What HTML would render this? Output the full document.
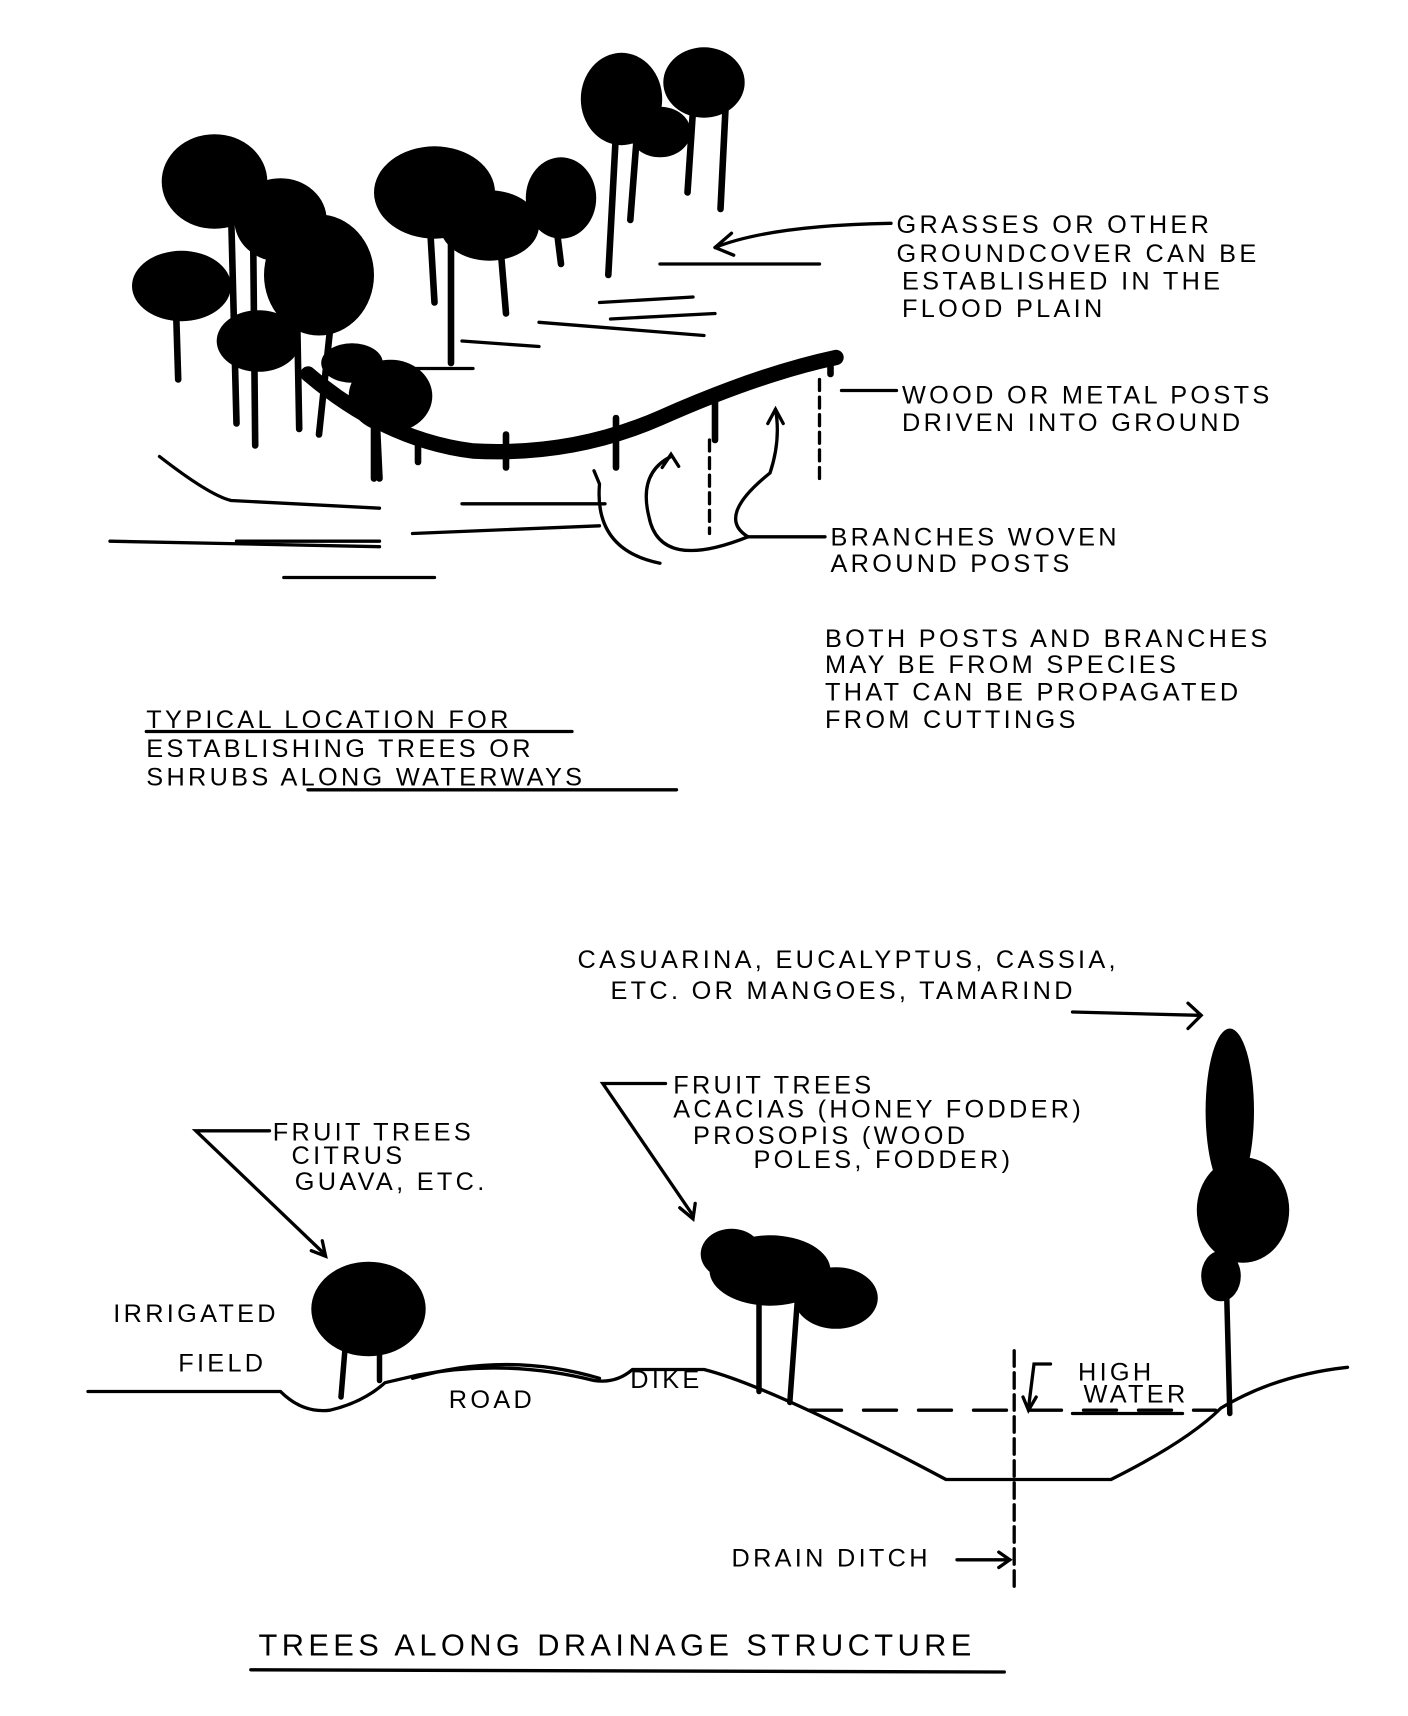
<!DOCTYPE html>
<html><head><meta charset="utf-8"><style>
html,body{margin:0;padding:0;background:#fff;}
svg{display:block;}
text{font-family:"Liberation Sans",sans-serif;font-size:23px;fill:#000;letter-spacing:3px;}
</style></head><body>
<svg width="1408" height="1716" viewBox="0 0 1280 1560" xmlns="http://www.w3.org/2000/svg">
<g fill="#000" stroke="none">
<ellipse cx="195" cy="165" rx="48" ry="43"/>
<ellipse cx="255" cy="200" rx="42" ry="38"/>
<ellipse cx="165" cy="260" rx="45" ry="32"/>
<ellipse cx="290" cy="250" rx="50" ry="55"/>
<ellipse cx="235" cy="310" rx="38" ry="28"/>
<ellipse cx="395" cy="175" rx="55" ry="42"/>
<ellipse cx="445" cy="205" rx="45" ry="32"/>
<ellipse cx="510" cy="180" rx="32" ry="37"/>
<ellipse cx="565" cy="90" rx="37" ry="42"/>
<ellipse cx="640" cy="75" rx="37" ry="32"/>
<ellipse cx="600" cy="120" rx="28" ry="23"/>
<ellipse cx="355" cy="360" rx="38" ry="33"/>
<ellipse cx="320" cy="330" rx="28" ry="18"/>
</g>
<g fill="none" stroke="#000" stroke-width="6" stroke-linecap="round">
<path d="M210 190 L215 385"/><path d="M230 200 L232 405"/><path d="M160 280 L162 345"/>
<path d="M270 280 L272 390"/><path d="M300 300 L290 395"/><path d="M340 330 L345 435"/>
<path d="M390 190 L395 275"/><path d="M410 200 L410 330"/><path d="M455 225 L460 285"/>
<path d="M505 200 L510 240"/><path d="M580 110 L573 200"/><path d="M560 120 L553 250"/>
<path d="M630 100 L625 175"/><path d="M660 90 L655 190"/>
<path d="M280 340 Q350 400 430 410 Q520 415 600 380 Q690 340 760 325" stroke-width="14"/>
<path d="M560 380 L560 425"/><path d="M650 355 L650 400"/><path d="M755 325 L755 340"/>
<path d="M460 395 L460 425"/><path d="M380 400 L380 420"/><path d="M340 380 L340 435"/>
<path d="M645 400 L645 485" stroke-width="3" stroke-dasharray="10 6"/>
<path d="M745 345 L745 435" stroke-width="3" stroke-dasharray="10 6"/>
</g>
<g fill="none" stroke="#000" stroke-width="3" stroke-linecap="round">
<path d="M145 415 Q190 450 210 455 L345 462"/><path d="M100 492 L345 497"/><path d="M215 492 L345 492"/>
<path d="M258 525 L395 525"/><path d="M375 485 L545 478"/><path d="M420 458 L550 458"/>
<path d="M600 240 L745 240"/><path d="M545 275 L630 270"/><path d="M555 290 L650 285"/>
<path d="M490 293 L640 305"/><path d="M360 335 L430 335"/><path d="M420 310 L490 315"/>
<path d="M810 203 Q700 205 650 225"/><path d="M650 225 L665 212 M650 225 L667 232"/>
<path d="M815 355 L765 355"/>
<path d="M750 488 L680 488 Q650 470 700 430 Q710 400 705 372"/><path d="M698 385 L705 372 L712 385"/>
<path d="M680 488 Q600 520 590 470 Q580 430 610 415"/><path d="M602 425 L610 413 L617 424"/>
<path d="M600 512 Q540 500 545 440 L540 428"/>
<path d="M133 665 L520 665"/><path d="M280 718 L615 718"/>
<path d="M80 1265 L255 1265 Q275 1285 300 1282 Q330 1275 350 1257 L380 1250 Q460 1235 540 1255 Q560 1258 575 1245 L640 1245 Q700 1260 860 1345 L1010 1345 Q1080 1310 1110 1280 Q1160 1250 1225 1243"/>
<path d="M375 1253 Q460 1228 545 1253"/>
<path d="M735 1282 L1105 1282" stroke-dasharray="30 20"/>
<path d="M975 1285 L1075 1285"/>
<path d="M922 1228 L922 1445" stroke-dasharray="14 6"/>
<path d="M955 1240 L940 1240 L935 1280"/><path d="M930 1270 L935 1282 L942 1270"/>
<path d="M870 1418 L918 1418"/><path d="M908 1411 L918 1418 L908 1425"/>
<path d="M975 920 L1090 923"/><path d="M1080 912 L1092 923 L1080 935"/>
<path d="M605 985 L548 985 L630 1105"/><path d="M618 1098 L630 1108 L632 1094"/>
<path d="M245 1028 L178 1028 L295 1140"/><path d="M283 1137 L296 1142 L293 1128"/>
<path d="M228 1518 L913 1520"/>
<path d="M1115 1170 L1118 1285" stroke-width="5"/>
<path d="M690 1180 L690 1265" stroke-width="5"/><path d="M725 1180 L718 1275" stroke-width="5"/>
<path d="M315 1210 L310 1270" stroke-width="5"/><path d="M345 1205 L345 1255" stroke-width="5"/>
</g>
<g fill="#000">
<ellipse cx="335" cy="1190" rx="52" ry="43"/>
<ellipse cx="700" cy="1155" rx="55" ry="32"/><ellipse cx="760" cy="1180" rx="38" ry="28"/><ellipse cx="665" cy="1140" rx="28" ry="23"/>
<ellipse cx="1118" cy="1010" rx="22" ry="75"/><ellipse cx="1130" cy="1100" rx="42" ry="48"/><ellipse cx="1110" cy="1160" rx="18" ry="23"/>
</g>
<text x="815" y="212">GRASSES OR OTHER</text>
<text x="815" y="238">GROUNDCOVER CAN BE</text>
<text x="820" y="263">ESTABLISHED IN THE</text>
<text x="820" y="288">FLOOD PLAIN</text>
<text x="820" y="367">WOOD OR METAL POSTS</text>
<text x="820" y="392">DRIVEN INTO GROUND</text>
<text x="755" y="496">BRANCHES WOVEN</text>
<text x="755" y="520">AROUND POSTS</text>
<text x="750" y="588">BOTH POSTS AND BRANCHES</text>
<text x="750" y="612">MAY BE FROM SPECIES</text>
<text x="750" y="637">THAT CAN BE PROPAGATED</text>
<text x="750" y="662">FROM CUTTINGS</text>
<text x="133" y="662">TYPICAL LOCATION FOR</text>
<text x="133" y="688">ESTABLISHING TREES OR</text>
<text x="133" y="714">SHRUBS ALONG WATERWAYS</text>
<text x="525" y="880">CASUARINA, EUCALYPTUS, CASSIA,</text>
<text x="555" y="908">ETC. OR MANGOES, TAMARIND</text>
<text x="612" y="994">FRUIT TREES</text>
<text x="612" y="1016">ACACIAS (HONEY FODDER)</text>
<text x="630" y="1040">PROSOPIS (WOOD</text>
<text x="685" y="1062">POLES, FODDER)</text>
<text x="248" y="1037">FRUIT TREES</text>
<text x="265" y="1058">CITRUS</text>
<text x="268" y="1082">GUAVA, ETC.</text>
<text x="103" y="1202">IRRIGATED</text>
<text x="162" y="1247">FIELD</text>
<text x="408" y="1280">ROAD</text>
<text x="573" y="1262">DIKE</text>
<text x="980" y="1255">HIGH</text>
<text x="985" y="1275">WATER</text>
<text x="665" y="1424">DRAIN DITCH</text>
<text x="235" y="1505" style="font-size:28px;letter-spacing:4px">TREES ALONG DRAINAGE STRUCTURE</text>
</svg>
</body></html>
